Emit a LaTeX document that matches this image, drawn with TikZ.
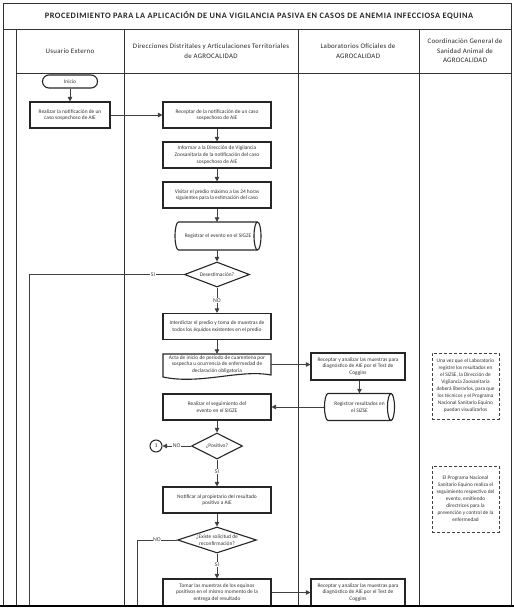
\documentclass[tikz,border=0pt]{standalone}
\usepackage{fontspec}
\setmainfont{Carlito}
\usetikzlibrary{arrows.meta,shapes.geometric,calc}
\newcommand{\myBodyFont}{\fontsize{5.4}{6.6}\selectfont}
\newcommand{\myNoteFont}{\fontsize{5.3}{7}\selectfont}
\newcommand{\myHeadFont}{\fontsize{6.9}{9.6}\selectfont\addfontfeature{LetterSpace=4}}
\newcommand{\myTitleFont}{\fontsize{8.3}{10}\selectfont\bfseries\addfontfeature{LetterSpace=7}}
\newcommand{\myLblFont}{\fontsize{5.8}{6.8}\selectfont}
% cylinder: name, x, y, w, h, text
\newcommand{\myCyl}[6]{%
  \draw[boxline] ({#2-#4/2+3.5},{#3+#5/2}) -- ({#2+#4/2-3.5},{#3+#5/2})
    arc[start angle=90,end angle=-90,x radius=3.5,y radius={#5/2}]
    -- ({#2-#4/2+3.5},{#3-#5/2})
    arc[start angle=270,end angle=90,x radius=3.5,y radius={#5/2}] -- cycle;
  \draw[boxline,fill=none] ({#2+#4/2-3.5},{#3+#5/2})
    arc[start angle=90,end angle=270,x radius=3.5,y radius={#5/2}];
  \node[txt,minimum width=#4pt,minimum height=#5pt] (#1) at (#2,#3) {#6};
}
\begin{document}
\begin{tikzpicture}[x=1pt,y=1pt,
  lane/.style={draw=black!80,line width=0.8pt},
  boxline/.style={draw=black!85,line width=1.1pt,fill=white},
  proc/.style={boxline,rectangle,minimum width=108pt,minimum height=26pt,inner sep=1pt,align=center,font=\myBodyFont,text=black!80},
  txt/.style={inner sep=1pt,align=center,font=\myBodyFont,text=black!80},
  head/.style={inner sep=1pt,align=center,font=\myHeadFont,text=black!85},
  dec/.style={boxline,diamond,aspect=3,inner sep=0pt,align=center,font=\myBodyFont,text=black!80},
  fl/.style={draw=black!75,line width=0.8pt},
  arr/.style={fl,-{Triangle[length=4.5pt,width=4.5pt]}},
  lbl/.style={fill=white,inner sep=0.6pt,font=\myLblFont,text=black!75},
  note/.style={draw=black!75,line width=1pt,dash pattern=on 3pt off 2pt,minimum width=67pt,minimum height=66pt,align=center,font=\myNoteFont,text=black!80,inner sep=1pt},
]
\useasboundingbox (0,0) rectangle (514,-608);
\fill[white] (0,0) rectangle (514,-608);

% frame and lanes
\draw[lane] (3,-605) -- (3,-3) -- (511,-3) -- (511,-605);
\draw[lane] (3,-29) -- (511,-29);
\draw[lane] (16,-73) -- (511,-73);
\draw[lane] (16,-29) -- (16,-605);
\draw[lane] (124,-29) -- (124,-605);
\draw[lane] (298,-29) -- (298,-605);
\draw[lane] (419,-29) -- (419,-605);

% title and headers
\node[inner sep=0pt,font=\myTitleFont,text=black!85] (title) at (259,-16) {PROCEDIMIENTO PARA LA APLICACIÓN DE UNA VIGILANCIA PASIVA EN CASOS DE ANEMIA INFECCIOSA EQUINA};
\node[head] (h1) at (70,-51) {Usuario Externo};
\node[head] (h2) at (211,-51) {Direcciones Distritales y Articulaciones Territoriales\\de AGROCALIDAD};
\node[head] (h3) at (358,-51) {Laboratorios Oficiales de\\AGROCALIDAD};
\node[head] (h4) at (465,-51) {Coordinación General de\\Sanidad Animal de\\AGROCALIDAD};

% Usuario externo
\node[boxline,rectangle,rounded corners=6.5pt,minimum width=55pt,minimum height=13pt,inner sep=0pt,font=\myBodyFont,text=black!80] (inicio) at (70,-81.5) {Inicio};
\node[proc,minimum width=80pt] (n1) at (70,-115) {Realizar la notificación de un\\caso sospechoso de AIE};

% Direcciones
\node[proc] (d1) at (217,-115) {Receptar de la notificación de un caso\\sospechoso de AIE};
\node[proc] (d2) at (217,-155) {Informar a la Dirección de Vigilancia\\Zoosanitaria de la notificación del caso\\sospechoso de AIE};
\node[proc] (d3) at (217,-195) {Visitar el predio máximo a las 24 horas\\siguientes para la estimación del caso};
\myCyl{d4}{218}{-236}{86}{28}{Registrar el evento en el SIGZE}
\node[dec,minimum width=65pt,minimum height=25pt] (q1) at (217,-274.5) {Desestimación?};
\node[proc] (d5) at (217,-326.5) {Interdictar el predio y toma de muestras de\\todos los équidos existentes en el predio};
% document shape
\draw[boxline] (163,-354) -- (271,-354) -- (271,-375)
  .. controls (240,-369) and (200,-385) .. (163,-377) -- cycle;
\node[txt,minimum width=108pt,minimum height=21pt] (d6) at (217,-364.5) {Acta de inicio de período de cuarentena por\\sospecha u ocurrencia de enfermedad de\\declaración obligatoria};
\node[proc] (d7) at (217,-407) {Realizar el seguimiento del\\evento en el SIGZE};
\node[dec,minimum width=51pt,minimum height=26pt] (q2) at (217,-446) {¿Positivo?};
\node[circle,draw=black!85,line width=1pt,fill=white,minimum size=12pt,inner sep=0pt,font=\myLblFont,text=black!80] (c1) at (156,-446) {1};
\node[proc] (d8) at (217,-500) {Notificar al propietario del resultado\\positivo a AIE};
\node[dec,minimum width=79pt,minimum height=26pt] (q3) at (217,-540) {¿Existe solicitud de\\reconfirmación?};
\node[proc,minimum height=27pt] (d9) at (217,-592.5) {Tomar las muestras de los equinos\\positivos en el mismo momento de la\\entrega del resultado};

% Laboratorios
\node[proc,minimum width=94pt,minimum height=27pt] (l1) at (358,-366.5) {Receptar y analizar las muestras para\\diagnóstico de AIE por el Test de\\Coggins};
\myCyl{l2}{359.5}{-407}{70}{27}{Registrar resultados en\\el SIZSE}
\node[proc,minimum width=94pt,minimum height=27pt] (l3) at (358,-592.5) {Receptar y analizar las muestras para\\diagnóstico de AIE por el Test de\\Coggins};

% Coordinacion notes
\node[note] (k1) at (465.5,-386) {Una vez que el Laboratorio\\registre los resultados en\\el SIZSE, la Dirección de\\Vigilancia Zoosanitaria\\deberá liberarlos, para que\\los técnicos y el Programa\\Nacional Sanitario Equino\\puedan visualizarlos};
\node[note] (k2) at (465.5,-499) {El Programa Nacional\\Sanitario Equino realiza el\\seguimiento respectivo del\\evento, emitiendo\\directrices para la\\prevención y control de la\\enfermedad};

% free ends
\coordinate (b1) at (29,-606);
\coordinate (b2) at (137,-606);

% connectors
\draw[arr] (inicio) -- (n1);
\draw[arr] (n1) -- (d1);
\draw[arr] (d1) -- (d2);
\draw[arr] (d2) -- (d3);
\draw[arr] (d3.south) -- (d3.south |- d4.north);
\draw[arr] (d4.south -| q1.north) -- (q1.north);
\draw[fl] (q1.west) -- node[lbl,pos=0.2] {SI} (q1.west -| b1) -- (b1);
\draw[arr] (q1) -- node[lbl,pos=0.5] {NO} (d5);
\draw[arr] (d5) -- (d5.south |- d6.north);
\draw[arr] (d6.east) -- (d6.east -| l1.west);
\draw[arr] (l1.south -| l2.north) -- (l2.north);
\draw[arr] (l2.west) -- (l2.west -| d7.east);
\draw[arr] (d7) -- (q2);
\draw[arr] (q2.west) -- node[lbl,pos=0.5] {NO} (c1.east);
\draw[arr] (q2) -- node[lbl,pos=0.45] {SI} (d8);
\draw[arr] (d8) -- (q3);
\draw[fl] (q3.west) -- node[lbl,pos=0.5] {NO} (q3.west -| b2) -- (b2);
\draw[arr] (q3) -- node[lbl,pos=0.45] {SI} (d9);
\draw[arr] (d9.east) -- (l3.west);

% bottom edge
\draw[black,line width=2pt] (0,-606) -- (514,-606);
\end{tikzpicture}
\end{document}
